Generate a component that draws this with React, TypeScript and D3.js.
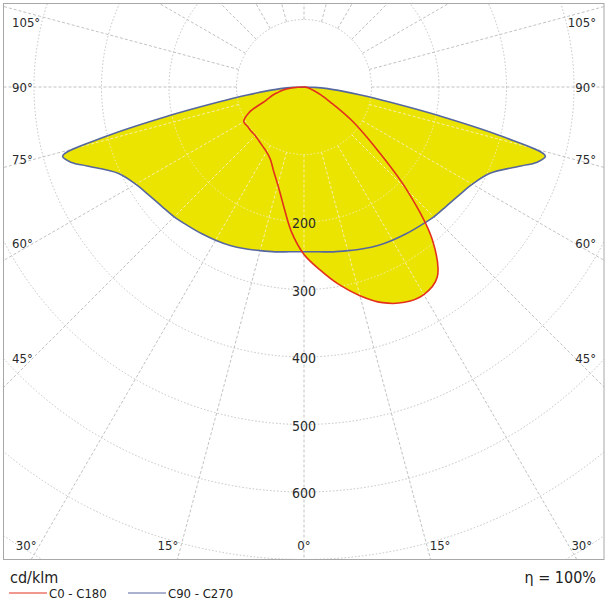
import { useEffect, useRef } from 'react';
import * as d3 from 'd3';

// gamma angles (deg from nadir) and intensities in cd/klm per half-plane
const gammas = [0, 5, 10, 15, 20, 25, 30, 35, 40, 45, 50, 55, 60, 65, 70, 72, 74, 76, 78, 80, 82, 84, 86, 88, 90];
const c0 = [248, 272, 297, 320, 340, 352, 355, 344, 296, 215, 135, 86, 46, 27, 15, 12, 10, 8, 7, 5, 4, 3, 2, 1, 0];
const c180 = [248, 215, 177, 150, 132, 118, 111, 107, 104, 102, 102, 102, 103, 90, 62, 56, 51, 46, 40, 35, 30, 24, 17, 9, 0];
const c90 = [244, 245, 248, 251, 255, 259, 262, 265, 268, 272, 275, 280, 288, 303, 342, 362, 372, 302, 205, 130, 85, 55, 35, 16, 0];
const c270 = [244, 245, 248, 251, 255, 259, 262, 265, 268, 272, 275, 280, 288, 303, 342, 362, 372, 302, 205, 130, 85, 55, 35, 16, 0];

const rings = [100, 200, 300, 400, 500, 600, 700, 800, 900];
const ringLabels = [200, 300, 400, 500, 600];
const angleLabels = [0, 15, 30, 45, 60, 75, 90, 105];
const spokeStep = 15;

const planes = [
  { name: 'C90 - C270', left: c270, right: c90, color: '#56679f' },
  { name: 'C0 - C180', left: c180, right: c0, color: '#e3301c' },
];

const W = 608;
const H = 608;
const cx = 304;
const cy = 87;
const FONT = "'DejaVu Sans Condensed', 'DejaVu Sans', sans-serif";

const App: React.FC = () => {
  const svgRef = useRef<SVGSVGElement>(null);

  useEffect(() => {
    if (!svgRef.current) return;
    const svg = d3.select(svgRef.current);
    svg.selectAll('*').remove();

    const r = d3.scaleLinear().domain([0, 100]).range([0, 67.5]);
    const frame = { x0: 3.5, x1: 604, y0: 3.5, y1: cy + r(700) };

    svg.append('rect').attr('width', W).attr('height', H).attr('fill', 'white');

    const defs = svg.append('defs');
    defs.append('clipPath').attr('id', 'frameClip')
      .append('rect')
      .attr('x', frame.x0).attr('y', frame.y0)
      .attr('width', frame.x1 - frame.x0).attr('height', frame.y1 - frame.y0);

    const radial = d3.lineRadial<[number, number]>()
      .angle(d => Math.PI - (d[0] * Math.PI) / 180)
      .radius(d => r(d[1]))
      .curve(d3.curveCatmullRom.alpha(0.5));

    const planePath = (left: number[], right: number[]) => {
      const pts: [number, number][] = [];
      for (let i = gammas.length - 1; i > 0; i--) pts.push([-gammas[i], left[i]]);
      for (let i = 0; i < gammas.length; i++) pts.push([gammas[i], right[i]]);
      return (radial(pts) || '') + 'Z';
    };

    const shapeClip = defs.append('clipPath').attr('id', 'shapeClip');
    planes.forEach(p => {
      shapeClip.append('path')
        .attr('transform', `translate(${cx},${cy})`)
        .attr('d', planePath(p.left, p.right));
    });

    const drawGrid = (g: d3.Selection<SVGGElement, unknown, null, undefined>, color: string) => {
      g.selectAll('.ring')
        .data(rings)
        .enter().append('circle')
        .attr('class', 'ring')
        .attr('cx', cx).attr('cy', cy)
        .attr('r', d => r(d))
        .attr('fill', 'none')
        .attr('stroke', color)
        .attr('stroke-width', 1)
        .attr('stroke-dasharray', '1.5,2');

      g.selectAll('.spoke')
        .data(d3.range(0, 360, spokeStep))
        .enter().append('line')
        .attr('class', 'spoke')
        .attr('x1', d => cx + r(100) * Math.sin((d * Math.PI) / 180))
        .attr('y1', d => cy + r(100) * Math.cos((d * Math.PI) / 180))
        .attr('x2', d => cx + r(1000) * Math.sin((d * Math.PI) / 180))
        .attr('y2', d => cy + r(1000) * Math.cos((d * Math.PI) / 180))
        .attr('stroke', color)
        .attr('stroke-width', 1)
        .attr('stroke-dasharray', '3,2');
    };

    // base grid
    const gridG = svg.append('g').attr('clip-path', 'url(#frameClip)');
    drawGrid(gridG, '#c2c2c2');

    // yellow fill (union of both planes)
    const fillG = svg.append('g').attr('transform', `translate(${cx},${cy})`);
    planes.forEach(p => {
      fillG.append('path')
        .attr('d', planePath(p.left, p.right))
        .attr('fill', '#ebe300')
        .attr('stroke', 'none');
    });

    // pale grid seen through the fill
    const paleG = svg.append('g').attr('clip-path', 'url(#shapeClip)');
    drawGrid(paleG, '#f6f0a8');

    // outlines
    const lineG = svg.append('g').attr('transform', `translate(${cx},${cy})`);
    planes.forEach(p => {
      lineG.append('path')
        .attr('d', planePath(p.left, p.right))
        .attr('fill', 'none')
        .attr('stroke', p.color)
        .attr('stroke-width', 1.6)
        .attr('stroke-linejoin', 'round');
    });

    // frame
    svg.append('rect')
      .attr('x', frame.x0).attr('y', frame.y0)
      .attr('width', frame.x1 - frame.x0).attr('height', frame.y1 - frame.y0)
      .attr('fill', 'none')
      .attr('stroke', '#a8a8a8')
      .attr('stroke-width', 1);

    // intensity labels
    svg.selectAll('.ringLabel')
      .data(ringLabels)
      .enter().append('text')
      .attr('class', 'ringLabel')
      .attr('x', cx)
      .attr('y', d => cy + r(d) + 1)
      .attr('text-anchor', 'middle')
      .attr('dominant-baseline', 'central')
      .attr('font-family', FONT)
      .attr('font-size', 14)
      .attr('fill', '#2a2a2a')
      .text(d => d);

    // angle labels
    const sideInset = 33;
    const bottomY = 545;
    const labels: { x: number; y: number; anchor: string; text: string }[] = [];
    angleLabels.forEach(a => {
      [-1, 1].forEach(side => {
        if (a === 0 && side === 1) return;
        const rad = (a * Math.PI) / 180;
        const sideY = a === 0 ? Infinity : cy + (cx - sideInset) / Math.tan(rad);
        if (sideY <= bottomY) {
          labels.push({
            x: side < 0 ? 12 : 596,
            y: Math.max(sideY, 22),
            anchor: side < 0 ? 'start' : 'end',
            text: `${a}°`,
          });
        } else {
          const bx = cx + side * (bottomY - cy) * Math.tan(rad);
          labels.push({
            x: a === 0 ? cx : bx + side * 3,
            y: bottomY,
            anchor: a === 0 ? 'middle' : side < 0 ? 'end' : 'start',
            text: `${a}°`,
          });
        }
      });
    });
    svg.selectAll('.angleLabel')
      .data(labels)
      .enter().append('text')
      .attr('class', 'angleLabel')
      .attr('x', d => d.x)
      .attr('y', d => d.y)
      .attr('text-anchor', d => d.anchor)
      .attr('dominant-baseline', 'central')
      .attr('font-family', FONT)
      .attr('font-size', 13)
      .attr('fill', '#2a2a2a')
      .text(d => d.text);

    // unit and efficiency
    svg.append('text')
      .attr('x', 10).attr('y', 577)
      .attr('dominant-baseline', 'central')
      .attr('font-family', FONT).attr('font-size', 16).attr('fill', '#222')
      .text('cd/klm');
    svg.append('text')
      .attr('x', 596).attr('y', 577)
      .attr('text-anchor', 'end')
      .attr('dominant-baseline', 'central')
      .attr('font-family', FONT).attr('font-size', 16).attr('fill', '#222')
      .text('η = 100%');

    // legend
    const legendItems = [planes[1], planes[0]];
    const legendX = [9, 128];
    legendItems.forEach((p, i) => {
      svg.append('line')
        .attr('x1', legendX[i]).attr('x2', legendX[i] + 38)
        .attr('y1', 593).attr('y2', 593)
        .attr('stroke', p.color)
        .attr('stroke-width', 1.2);
      svg.append('text')
        .attr('x', legendX[i] + 40).attr('y', 593)
        .attr('dominant-baseline', 'central')
        .attr('font-family', FONT).attr('font-size', 13).attr('fill', '#222')
        .text(p.name);
    });
  }, []);

  return (
    <svg
      ref={svgRef}
      width={W}
      height={H}
      style={{ position: 'absolute', left: 0, top: 0, display: 'block' }}
    />
  );
};

export default App;
